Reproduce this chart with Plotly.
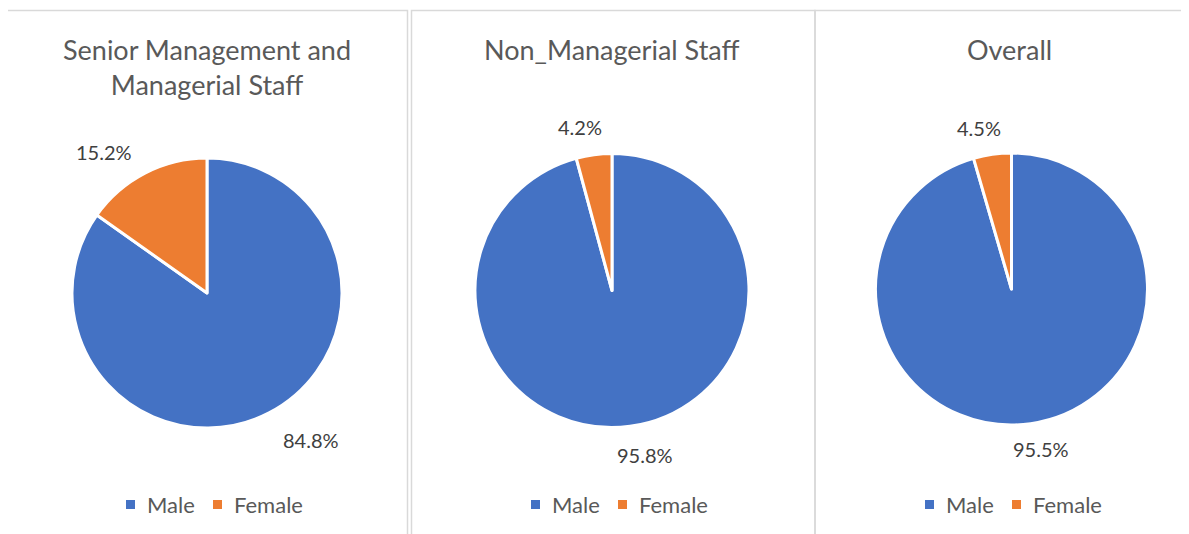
import plotly.graph_objects as go

W, H = 1189, 534

labels = ["Male", "Female"]
panel_titles = ["Senior Management and<br>Managerial Staff", "Non_Managerial Staff", "Overall"]
senior_values = [84.8, 15.2]
non_managerial_values = [95.8, 4.2]
overall_values = [95.5, 4.5]
series = [senior_values, non_managerial_values, overall_values]

colors = ["#4472C4", "#ED7D31"]
FONT = "Lato"

# geometry in reference-pixel coordinates (x, y from top)
pies = [(207, 293, 135), (612, 290.5, 137), (1011.5, 289, 136)]
title_pos = [(207, 67), (612, 50), (1010, 50)]
label_pos = [[(311, 440), (104, 152)], [(645, 455), (580, 127)], [(1041, 449), (979, 128)]]
legend_start = [126, 531, 925]
legend_y = 504.5
SQ = 9
TEXT_DX = 19
ITEM_DX = 87

# the page body adds an 8px margin; compensate
OFF = 8


def px(x):
    return (x - OFF) / W


def py(y):
    return 1 - (y - OFF) / H


fig = go.Figure()
for i, vals in enumerate(series):
    cx, cy, r = pies[i]
    fig.add_trace(go.Pie(
        labels=labels,
        values=vals,
        sort=False,
        direction="clockwise",
        rotation=0,
        textinfo="none",
        hoverinfo="label+percent",
        marker=dict(colors=colors, line=dict(color="white", width=3)),
        domain=dict(x=[px(cx - r), px(cx + r)], y=[py(cy + r), py(cy - r)]),
        showlegend=False,
    ))

annotations = []
shapes = []
for i, t in enumerate(panel_titles):
    annotations.append(dict(
        text=t, x=px(title_pos[i][0]), y=py(title_pos[i][1]),
        xref="paper", yref="paper", showarrow=False,
        xanchor="center", yanchor="middle",
        font=dict(family=FONT, size=27, color="#595959"),
    ))
    total = sum(series[i])
    for j, v in enumerate(series[i]):
        lx, ly = label_pos[i][j]
        annotations.append(dict(
            text=f"{v / total * 100:.1f}%", x=px(lx), y=py(ly),
            xref="paper", yref="paper", showarrow=False,
            xanchor="center", yanchor="middle",
            font=dict(family=FONT, size=20, color="#404040"),
        ))
    # legend per panel
    for j, lab in enumerate(labels):
        sx = legend_start[i] + j * ITEM_DX
        shapes.append(dict(type="rect", xref="paper", yref="paper",
                           x0=px(sx), x1=px(sx + SQ),
                           y0=py(legend_y + SQ / 2), y1=py(legend_y - SQ / 2),
                           fillcolor=colors[j], line=dict(width=0)))
        annotations.append(dict(
            text=lab, x=px(sx + TEXT_DX), y=py(legend_y),
            xref="paper", yref="paper", showarrow=False,
            xanchor="left", yanchor="middle",
            font=dict(family=FONT, size=22, color="#595959"),
        ))

line_col = "#D9D9D9"
for x0, x1 in [(6.5, 407.5), (411.5, 815), (815, 1210)]:
    shapes.append(dict(type="rect", xref="paper", yref="paper",
                       x0=px(x0), x1=px(x1), y0=py(580), y1=py(10.5),
                       line=dict(color=line_col, width=1.5), layer="below"))

fig.update_layout(
    width=W, height=H,
    margin=dict(l=0, r=0, t=0, b=0),
    paper_bgcolor="white", plot_bgcolor="white",
    showlegend=False,
    annotations=annotations, shapes=shapes,
)

fig.write_html("out.html")
